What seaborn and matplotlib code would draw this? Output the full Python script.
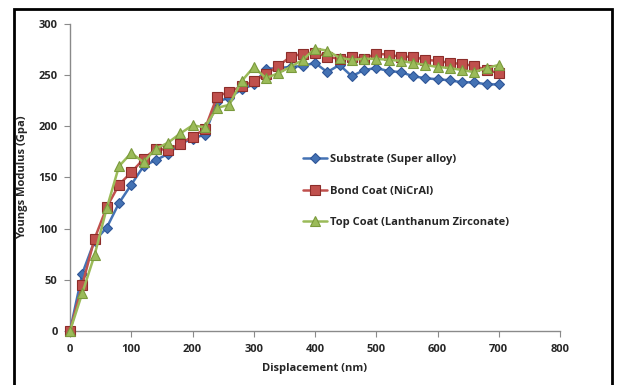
import numpy as np
import pandas as pd
import matplotlib
matplotlib.use("Agg")
import matplotlib.pyplot as plt
import seaborn as sns
from matplotlib.patches import Rectangle

displacement = list(range(0, 701, 20))
substrate = [0, 56, 88, 101, 125, 143, 161, 167, 173, 183, 188, 192, 224, 228, 236, 241,
             256, 257, 258, 259, 262, 253, 260, 249, 255, 257, 254, 253, 249, 247, 246,
             245, 243, 243, 241, 241]
bond_coat = [0, 45, 90, 121, 143, 155, 168, 178, 177, 183, 190, 197, 229, 234, 239, 244,
             251, 259, 268, 271, 272, 268, 266, 268, 266, 271, 270, 268, 268, 265, 264,
             262, 261, 259, 255, 252]
top_coat = [0, 37, 74, 120, 161, 174, 165, 178, 184, 193, 201, 199, 218, 221, 244, 258,
            247, 252, 258, 265, 276, 274, 267, 265, 266, 266, 265, 264, 262, 260, 258,
            257, 255, 253, 257, 260]
series_names = ["Substrate (Super alloy)", "Bond Coat (NiCrAl)", "Top Coat (Lanthanum Zirconate)"]
x_ticks = [0, 100, 200, 300, 400, 500, 600, 700, 800]
y_ticks = [0, 50, 100, 150, 200, 250, 300]

df = pd.DataFrame({
    "Displacement": displacement * 3,
    "Modulus": substrate + bond_coat + top_coat,
    "Series": [series_names[0]] * len(displacement)
              + [series_names[1]] * len(displacement)
              + [series_names[2]] * len(displacement),
})

sns.set_style("white")
plt.rcParams["font.family"] = ["Open Sans", "DejaVu Sans"]

fig = plt.figure(figsize=(6.18, 3.85), dpi=100)
ax = fig.add_axes([70 / 618, 1 - 331 / 385, 490 / 618, 307 / 385])

colors = {series_names[0]: "#4472B4", series_names[1]: "#C0504D", series_names[2]: "#9BBB59"}
markers = {series_names[0]: "D", series_names[1]: "s", series_names[2]: "^"}
edge = {series_names[0]: "#2F5597", series_names[1]: "#8C2D2A", series_names[2]: "#7A9A3C"}
msize = {series_names[0]: 5, series_names[1]: 7, series_names[2]: 7.5}

for name in series_names:
    sub = df[df["Series"] == name]
    sns.lineplot(data=sub, x="Displacement", y="Modulus", ax=ax, color=colors[name],
                 marker=markers[name], markersize=msize[name], markeredgecolor=edge[name],
                 markeredgewidth=0.8, linewidth=1.8, label=name, zorder=3)

ax.set_xlim(0, 800)
ax.set_ylim(0, 300)
ax.set_xticks(x_ticks)
ax.set_yticks(y_ticks)
ax.set_xticklabels([str(t) for t in x_ticks], fontsize=8, fontweight="bold")
ax.set_yticklabels([str(t) for t in y_ticks], fontsize=8, fontweight="bold")
ax.set_xlabel("Displacement (nm)", fontsize=8, fontweight="bold", labelpad=6)
ax.set_ylabel("Youngs Modulus (Gpa)", fontsize=8, fontweight="bold")
ax.yaxis.set_label_coords(-0.086, 0.5)

for s in ["top", "right"]:
    ax.spines[s].set_visible(False)
for s in ["left", "bottom"]:
    ax.spines[s].set_color("#8a8a8a")
    ax.spines[s].set_linewidth(1.0)
ax.tick_params(axis="both", direction="out", length=4, width=0.8, color="#8a8a8a",
               bottom=True, left=True, pad=5)
for line in ax.lines:
    line.set_clip_on(False)

leg = ax.legend(loc="center left", bbox_to_anchor=(0.455, 0.456), frameon=False,
                prop={"size": 8, "weight": "bold"}, labelspacing=1.85,
                handlelength=2.2, handletextpad=0.2)

fig.patches.append(Rectangle((14 / 618, -0.05), (612 - 14) / 618, 1.05 - 9 / 385,
                             transform=fig.transFigure, fill=False, edgecolor="black",
                             linewidth=2.0, zorder=10))

fig.savefig("out.png", dpi=100)
